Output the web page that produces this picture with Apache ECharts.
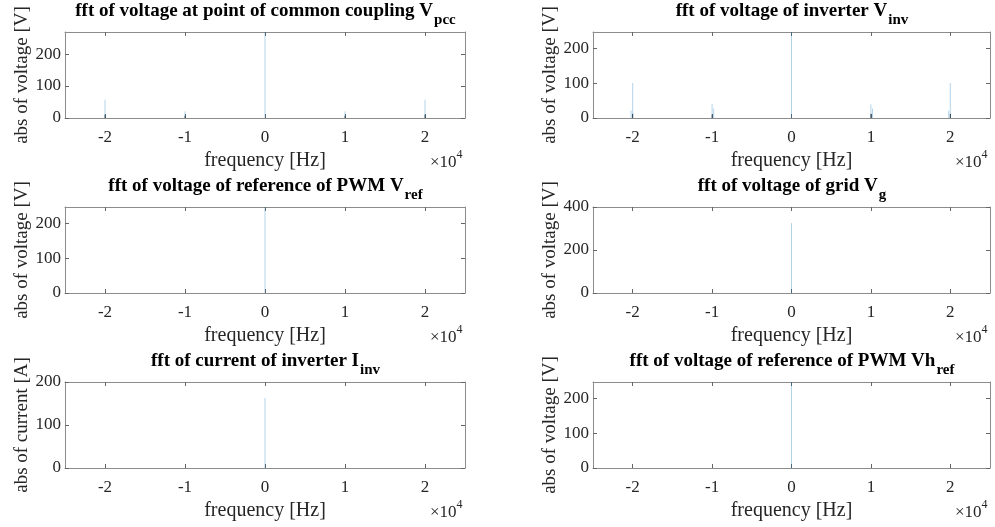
<!DOCTYPE html>
<html><head><meta charset="utf-8">
<script src="https://cdn.jsdelivr.net/npm/echarts@6/dist/echarts.min.js"></script>
<style>html,body{margin:0;padding:0;background:#fff}#c{width:995px;height:527px}</style>
</head><body><div id="c"></div>
<script>
// ---- data ----
const xTickValues = [-20000, -10000, 0, 10000, 20000];
const panelTitles = [
  ['fft of voltage at point of common coupling V', 'pcc'],
  ['fft of voltage of inverter V', 'inv'],
  ['fft of voltage of reference of PWM V', 'ref'],
  ['fft of voltage of grid V', 'g'],
  ['fft of current of inverter I', 'inv'],
  ['fft of voltage of reference of PWM Vh', 'ref']
];
const yNames = ['abs of voltage [V]', 'abs of voltage [V]', 'abs of voltage [V]', 'abs of voltage [V]', 'abs of current [A]', 'abs of voltage [V]'];
const xName = 'frequency [Hz]';
const yMax = [269, 246, 246, 400, 200, 248];
const yTicks = [[0, 100, 200], [0, 100, 200], [0, 100, 200], [0, 200, 400], [0, 100, 200], [0, 100, 200]];

const pccFreq = [-20000, -10000, 0, 10000, 20000];
const pccMag  = [57, 21, 269, 21, 57];
const pccLowFreq = [-20000, -10000, 10000, 20000];
const pccLowMag  = [10, 7, 7, 10];

const invFreq = [-20200, -20000, -10000, -9800, 0, 10000, 10200, 19800, 20000];
const invMag  = [21, 100, 40, 27, 246, 39, 27, 21, 100];
const invLowFreq = [-20000, -10000, 10000, 20000];
const invLowMag  = [12, 10, 12, 12];

const refFreq = [0];
const refMag  = [246];
const gridFreq = [0];
const gridMag  = [325];
const iinvFreq = [0];
const iinvMag  = [163];
const vhFreq = [0];
const vhMag  = [248];

// ---- styling / layout ----
const FONT = '"Liberation Serif", "Times New Roman", serif';
const TXT = '#262626';
const BOX = '#8c8c8c';
const SPIKE = 'rgba(0,114,189,0.3)';
const LOW = 'rgba(50,70,90,0.85)';
const colLeft = [65, 593], colWidth = [400, 397], rowTop = [32, 207, 382], H = 86;

const mainSets = [[pccFreq, pccMag], [invFreq, invMag], [refFreq, refMag], [gridFreq, gridMag], [iinvFreq, iinvMag], [vhFreq, vhMag]];
const lowSets = [[pccLowFreq, pccLowMag], [invLowFreq, invLowMag], null, null, null, null];

function spikes(freq, mag) {
  const pts = [];
  freq.forEach((f, k) => { pts.push([f, 0], [f, mag[k]], [f, '-']); });
  return pts;
}

const ctx = document.createElement('canvas').getContext('2d');
function measure(text, font) { ctx.font = font; return ctx.measureText(text).width; }

const grid = [], xAxis = [], yAxis = [], series = [], graphic = [];
for (let i = 0; i < 6; i++) {
  const r = Math.floor(i / 2), c = i % 2;
  const L = colLeft[c], W = colWidth[c], T = rowTop[r];
  grid.push({ left: L, top: T, width: W, height: H, containLabel: false });
  const tickCommon = { show: true, inside: true, length: 4, lineStyle: { color: '#666', width: 1 } };
  xAxis.push({
    type: 'value', gridIndex: i, min: -25000, max: 25000, position: 'bottom',
    axisLine: { show: true, onZero: false, lineStyle: { color: BOX, width: 1 } },
    axisTick: Object.assign({ customValues: xTickValues }, tickCommon),
    axisLabel: { customValues: xTickValues, formatter: v => String(v / 10000), color: TXT, fontFamily: FONT, fontSize: 17, margin: 11 },
    splitLine: { show: false },
    name: xName, nameLocation: 'middle', nameGap: 33,
    nameTextStyle: { color: TXT, fontFamily: FONT, fontSize: 20 }
  });
  xAxis.push({
    type: 'value', gridIndex: i, min: -25000, max: 25000, position: 'top',
    axisLine: { show: true, onZero: false, lineStyle: { color: BOX, width: 1 } },
    axisTick: Object.assign({ customValues: xTickValues }, tickCommon),
    axisLabel: { show: false }, splitLine: { show: false }
  });
  yAxis.push({
    type: 'value', gridIndex: i, min: 0, max: yMax[i], position: 'left',
    axisLine: { show: true, onZero: false, lineStyle: { color: BOX, width: 1 } },
    axisTick: Object.assign({ customValues: yTicks[i] }, tickCommon),
    axisLabel: { customValues: yTicks[i], color: TXT, fontFamily: FONT, fontSize: 17, margin: 4 },
    splitLine: { show: false },
    name: yNames[i], nameLocation: 'middle', nameGap: 33, nameRotate: 90,
    nameTextStyle: { color: TXT, fontFamily: FONT, fontSize: 19 }
  });
  yAxis.push({
    type: 'value', gridIndex: i, min: 0, max: yMax[i], position: 'right',
    axisLine: { show: true, onZero: false, lineStyle: { color: BOX, width: 1 } },
    axisTick: Object.assign({ customValues: yTicks[i] }, tickCommon),
    axisLabel: { show: false }, splitLine: { show: false }
  });
  series.push({
    type: 'line', xAxisIndex: 2 * i, yAxisIndex: 2 * i, showSymbol: false, silent: true,
    connectNulls: false, animation: false,
    lineStyle: { color: SPIKE, width: 1 },
    data: spikes(mainSets[i][0], mainSets[i][1]), z: 3
  });
  if (lowSets[i]) {
    series.push({
      type: 'line', xAxisIndex: 2 * i, yAxisIndex: 2 * i, showSymbol: false, silent: true,
      connectNulls: false, animation: false,
      lineStyle: { color: LOW, width: 1 },
      data: spikes(lowSets[i][0], lowSets[i][1]), z: 4
    });
  }
  // title with subscript
  const fMain = 'bold 19px ' + FONT, fSub = 'bold 15px ' + FONT;
  const [tMain, tSub] = panelTitles[i];
  const w1 = measure(tMain, fMain), w2 = measure(tSub, fSub);
  const cx = L + W / 2, x0 = cx - (w1 + w2) / 2;
  graphic.push({ type: 'text', x: x0, y: T - 21, style: { text: tMain, font: fMain, fill: '#000', align: 'left', verticalAlign: 'middle' } });
  graphic.push({ type: 'text', x: x0 + w1 + 1, y: T - 12, style: { text: tSub, font: fSub, fill: '#000', align: 'left', verticalAlign: 'middle' } });
  // x10^4 exponent label
  const fE = '17px ' + FONT, fS = '12px ' + FONT;
  const ex = L + W - 35, B = T + H;
  graphic.push({ type: 'text', x: ex, y: B + 45, style: { text: '×10', font: fE, fill: TXT, align: 'left', verticalAlign: 'middle' } });
  graphic.push({ type: 'text', x: ex + measure('×10', fE), y: B + 37, style: { text: '4', font: fS, fill: TXT, align: 'left', verticalAlign: 'middle' } });
}

const chart = echarts.init(document.getElementById('c'), null, { renderer: 'canvas' });
chart.setOption({ backgroundColor: '#fff', animation: false, grid, xAxis, yAxis, series, graphic });
</script></body></html>
